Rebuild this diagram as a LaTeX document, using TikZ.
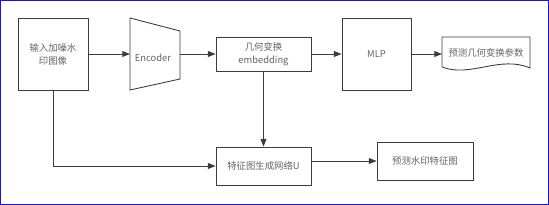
\documentclass[tikz,border=0pt]{standalone}
\usepackage{fontspec}
\setmainfont{Noto Sans CJK SC}
\usetikzlibrary{arrows.meta}
\definecolor{lineclr}{RGB}{60,60,60}
\definecolor{textclr}{RGB}{100,100,100}
\definecolor{frameblue}{RGB}{20,20,230}
\tikzset{
  box/.style={draw=lineclr, line width=0.75pt, fill=white, text=textclr,
    align=center, inner sep=0pt, font=\fontsize{8}{11}\selectfont},
  label/.style={text=textclr, align=center, inner sep=0pt,
    font=\fontsize{8}{11}\selectfont},
  flow/.style={draw=lineclr, line width=0.75pt,
    -{Triangle[length=6.5pt,width=5pt]}},
}

\begin{document}
\begin{tikzpicture}[x=0.03cm, y=-0.03cm]
\useasboundingbox (0,0) rectangle (549,205);
\draw[frameblue, line width=0.9pt] (0.5,0.5) rectangle (548.5,204.5);
% boxes
\node[box, minimum width=2.1cm, minimum height=2.16cm] (in) at (53,54) {输入加噪水\\印图像};
\node[box, minimum width=2.85cm, minimum height=1.02cm] (emb) at (263.5,54) {几何变换\\embedding};
\node[box, minimum width=2.07cm, minimum height=2.16cm] (mlp) at (376.5,54) {MLP};
\node[box, minimum width=2.85cm, minimum height=1.14cm] (feat) at (263.5,166) {特征图生成网络U};
\node[box, minimum width=2.88cm, minimum height=1.14cm] (pred) at (425,161) {预测水印特征图};
% encoder
\draw[draw=lineclr, line width=0.75pt] (130,18) -- (180,31) -- (180,79) -- (130,90) -- cycle;
\coordinate (enc-w) at (130,54);
\coordinate (enc-e) at (180,54);
\node[label] (enc) at (153,58) {Encoder};
% document shape
\draw[draw=lineclr, line width=0.75pt] (442,67) -- (442,37) -- (530,37) -- (530,68)
  .. controls (500,55) and (470,78) .. (442,67);
\coordinate (doc-w) at (442,54);
\node[label] (doc) at (486,53) {预测几何变换参数};
% arrows
\draw[flow] (in.east |- enc-w) -- (enc-w);
\draw[flow] (enc-e) -- (emb.west);
\draw[flow] (emb.east) -- (mlp.west);
\draw[flow] (mlp.east) -- (doc-w);
\draw[flow] (emb.south) -- (feat.north);
\draw[flow] (in.south) |- (feat.west);
\draw[flow] (feat.east |- pred.west) -- (pred.west);
\end{tikzpicture}
\end{document}
